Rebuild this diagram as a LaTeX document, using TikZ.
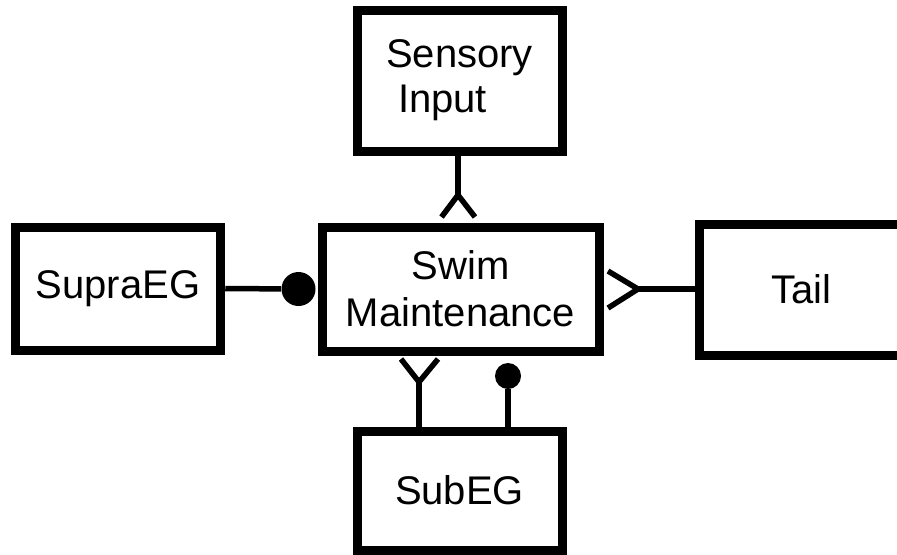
\documentclass[tikz,border=0pt]{standalone}
\usepackage{fontspec}
\setmainfont{Liberation Sans}
\usetikzlibrary{calc,positioning}

\begin{document}
\begin{tikzpicture}[x=0.5pt,y=-0.5pt,
    box/.style={rectangle,draw=black,line width=4.5pt,inner sep=0pt,align=center,font=\fontsize{20}{22.5}\selectfont},
    link/.style={draw=black,line width=2.75pt},
    knob/.style={circle,fill=black,draw=none,inner sep=0pt}]

  \useasboundingbox (0,0) rectangle (897,554);
  \clip (0,0) rectangle (897,554);

  \node (sensory) [box,minimum width=102.5pt,minimum height=70.5pt] at (459.5,80.5) {Sensory\\Input\hspace*{17pt}};
  \node (swim) [box,minimum width=138.5pt,minimum height=62pt,font=\fontsize{20}{23.5}\selectfont] at (460.5,289) {Swim\\Maintenance};
  \node (supra) [box,minimum width=102.75pt,minimum height=61.5pt] at (118,288.5) {SupraEG};
  \node (tail) [box,minimum width=102.5pt,minimum height=65.5pt] at (801.5,289.5) {Tail};
  \node (sub) [box,minimum width=102.5pt,minimum height=59.5pt] at (459.5,490.5) {SubEG};

  % sensory input -> swim maintenance
  \coordinate (topfork) at (458,195);
  \draw[link] (topfork |- sensory.south) -- (topfork);
  \draw[link] ($(topfork)+(-16.5,22)$) -- (topfork) -- ($(topfork)+(17,22)$);

  % supraEG -> swim maintenance
  \node (supradot) [knob,minimum size=17pt] at (298.5,289) {};
  \draw[link] (supra.east) -- (supradot);

  % swim maintenance <- tail
  \coordinate (tailfork) at (638,289);
  \draw[link] (tailfork -| tail.west) -- (tailfork);
  \draw[link] ($(tailfork)+(-30,-18)$) -- (tailfork) -- ($(tailfork)+(-30,19)$);

  % subEG <-> swim maintenance
  \coordinate (subfork) at (419,382);
  \draw[link] (subfork |- sub.north) -- (subfork);
  \draw[link] ($(subfork)+(-18,-23)$) -- (subfork) -- ($(subfork)+(19,-23)$);
  \node (subdot) [knob,minimum size=13pt] at (508,376) {};
  \draw[link] (subdot |- sub.north) -- (subdot);

\end{tikzpicture}
\end{document}
